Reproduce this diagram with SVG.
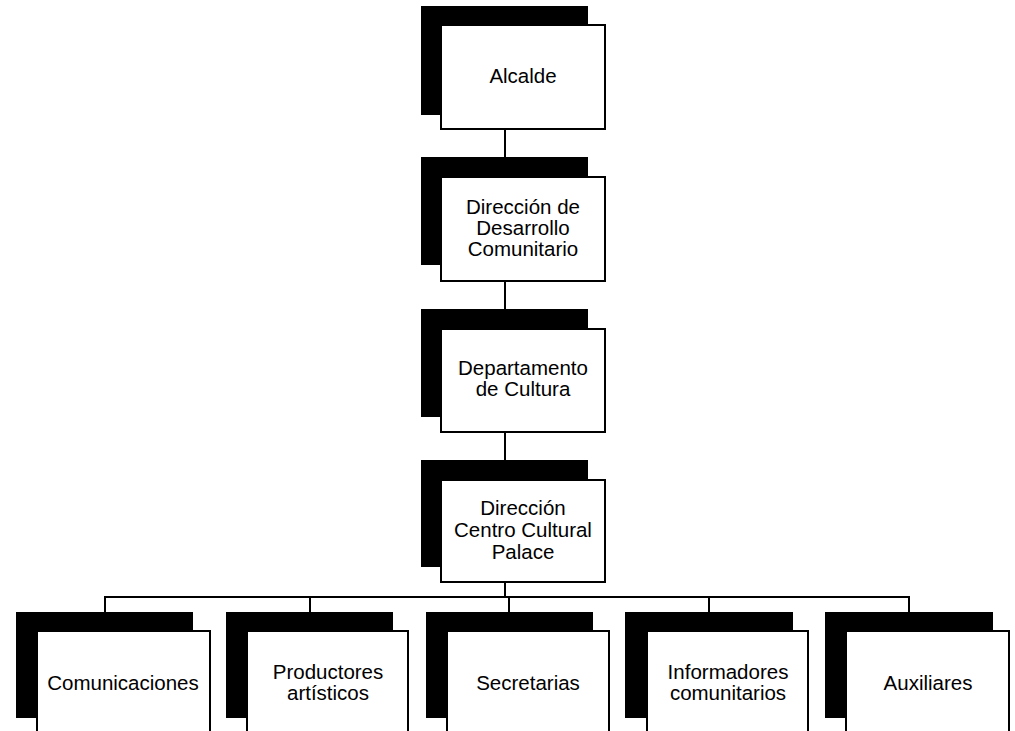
<svg xmlns="http://www.w3.org/2000/svg" width="1015" height="731" viewBox="0 0 1015 731">
  <style>
    .shadow { fill: #000; }
    .box { fill: #fff; stroke: #000; stroke-width: 2; }
    .label { font-family: "Liberation Sans", Arial, sans-serif; font-size: 20.5px; fill: #000; text-anchor: middle; }
    .wire { fill: none; stroke: #000; stroke-width: 2; }
  </style>
  <rect width="1015" height="731" fill="#fff"/>

  <!-- connectors -->
  <g id="connectors" class="wire">
    <line x1="505" y1="130" x2="505" y2="157"/>
    <line x1="505" y1="282" x2="505" y2="309"/>
    <line x1="505" y1="433" x2="505" y2="460"/>
    <line x1="505" y1="583" x2="505" y2="597"/>
    <line x1="104" y1="597" x2="910" y2="597"/>
    <line x1="105" y1="597" x2="105" y2="612"/>
    <line x1="310" y1="597" x2="310" y2="612"/>
    <line x1="509" y1="597" x2="509" y2="612"/>
    <line x1="709" y1="597" x2="709" y2="612"/>
    <line x1="909" y1="597" x2="909" y2="612"/>
  </g>

  <g id="alcalde">
    <rect class="shadow" x="421" y="6" width="167" height="109"/>
    <rect class="box" x="441" y="25" width="164" height="104"/>
    <text class="label" x="523" y="83">Alcalde</text>
  </g>

  <g id="direccion-desarrollo">
    <rect class="shadow" x="421" y="157" width="167" height="108"/>
    <rect class="box" x="441" y="177" width="164" height="104"/>
    <text class="label" x="523" y="214">Dirección de</text>
    <text class="label" x="523" y="235">Desarrollo</text>
    <text class="label" x="523" y="256">Comunitario</text>
  </g>

  <g id="departamento-cultura">
    <rect class="shadow" x="421" y="309" width="167" height="108"/>
    <rect class="box" x="441" y="329" width="164" height="103"/>
    <text class="label" x="523" y="375">Departamento</text>
    <text class="label" x="523" y="396">de Cultura</text>
  </g>

  <g id="direccion-centro">
    <rect class="shadow" x="421" y="460" width="167" height="107"/>
    <rect class="box" x="441" y="480" width="164" height="102"/>
    <text class="label" x="523" y="515">Dirección</text>
    <text class="label" x="523" y="537">Centro Cultural</text>
    <text class="label" x="523" y="559">Palace</text>
  </g>

  <g id="comunicaciones">
    <rect class="shadow" x="16" y="612" width="177" height="106"/>
    <rect class="box" x="37" y="631" width="173" height="110"/>
    <text class="label" x="123" y="690">Comunicaciones</text>
  </g>

  <g id="productores">
    <rect class="shadow" x="226" y="612" width="167" height="106"/>
    <rect class="box" x="247" y="631" width="161" height="110"/>
    <text class="label" x="328" y="679">Productores</text>
    <text class="label" x="328" y="700">artísticos</text>
  </g>

  <g id="secretarias">
    <rect class="shadow" x="426" y="612" width="167" height="106"/>
    <rect class="box" x="447" y="631" width="162" height="110"/>
    <text class="label" x="528" y="690">Secretarias</text>
  </g>

  <g id="informadores">
    <rect class="shadow" x="625" y="612" width="168" height="106"/>
    <rect class="box" x="647" y="631" width="161" height="110"/>
    <text class="label" x="728" y="679">Informadores</text>
    <text class="label" x="728" y="700">comunitarios</text>
  </g>

  <g id="auxiliares">
    <rect class="shadow" x="825" y="612" width="168" height="106"/>
    <rect class="box" x="846" y="631" width="163" height="110"/>
    <text class="label" x="928" y="690">Auxiliares</text>
  </g>
</svg>
